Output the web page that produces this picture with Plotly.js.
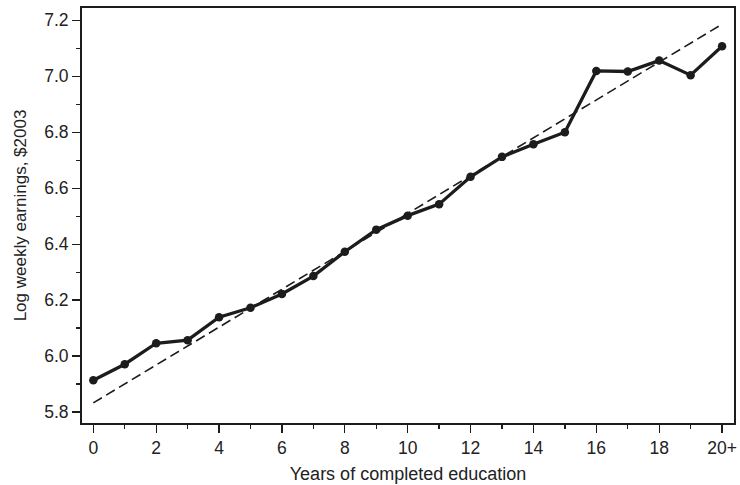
<!DOCTYPE html>
<html>
<head>
<meta charset="utf-8">
<script src="https://cdn.plot.ly/plotly-3.0.1.min.js"></script>
<style>html,body{margin:0;padding:0;background:#fff;}#chart{width:740px;height:485px;}</style>
</head>
<body>
<div id="chart"></div>
<script>
// Years of completed education (20 = "20+")
const years = [0,1,2,3,4,5,6,7,8,9,10,11,12,13,14,15,16,17,18,19,20];
// Log weekly earnings, $2003
const logEarnings = [5.914,5.971,6.046,6.057,6.139,6.173,6.222,6.286,6.373,6.452,6.502,6.543,6.641,6.712,6.757,6.800,7.019,7.017,7.056,7.004,7.107];
// Fitted regression line endpoints
const fitYears = [0,20];
const fitValues = [5.833,7.186];
// Tick labels
const xTickVals = [0,2,4,6,8,10,12,14,16,18,20];
const xTickText = ["0","2","4","6","8","10","12","14","16","18","20+"];
const yTickVals = [5.8,6.0,6.2,6.4,6.6,6.8,7.0,7.2];
const yTickText = ["5.8","6.0","6.2","6.4","6.6","6.8","7.0","7.2"];

const ink = '#1c1c1c';
const traces = [
  {x: fitYears, y: fitValues, mode: 'lines', type: 'scatter',
   line: {color: ink, width: 1.6, dash: '10px,5px'}, hoverinfo: 'skip'},
  {x: years, y: logEarnings, mode: 'lines+markers', type: 'scatter',
   line: {color: ink, width: 3.3}, marker: {color: ink, size: 8.5}}
];
const fontFam = '"Liberation Sans", Arial, Helvetica, sans-serif';
const layout = {
  width: 740, height: 485,
  margin: {l: 82, r: 6, t: 8, b: 62},
  paper_bgcolor: '#fff', plot_bgcolor: '#fff',
  showlegend: false,
  font: {family: fontFam, color: '#222', size: 17},
  xaxis: {
    range: [-0.36, 20.38],
    tickvals: xTickVals, ticktext: xTickText,
    ticks: 'outside', ticklen: 8, tickwidth: 1.3, tickcolor: ink,
    minor: {ticks: 'outside', ticklen: 4, tickwidth: 1.3, tickcolor: ink, dtick: 1, tick0: 0, showgrid: false},
    showline: true, linecolor: ink, linewidth: 2, mirror: true,
    showgrid: false, zeroline: false,
    tickfont: {size: 17.5, family: fontFam, color: '#222'},
    title: {text: 'Years of completed education', font: {size: 18, family: fontFam, color: '#222'}, standoff: 10}
  },
  yaxis: {
    range: [5.761, 7.244],
    tickvals: yTickVals, ticktext: yTickText,
    ticks: 'outside', ticklen: 8, tickwidth: 1.3, tickcolor: ink,
    minor: {ticks: 'outside', ticklen: 4, tickwidth: 1.3, tickcolor: ink, dtick: 0.1, tick0: 5.7, showgrid: false},
    showline: true, linecolor: ink, linewidth: 2, mirror: true,
    showgrid: false, zeroline: false,
    tickfont: {size: 17.5, family: fontFam, color: '#222'},
    title: {text: 'Log weekly earnings, $2003', font: {size: 17, family: fontFam, color: '#222'}, standoff: 13}
  }
};
Plotly.newPlot('chart', traces, layout, {displayModeBar: false, staticPlot: true});
</script>
</body>
</html>
